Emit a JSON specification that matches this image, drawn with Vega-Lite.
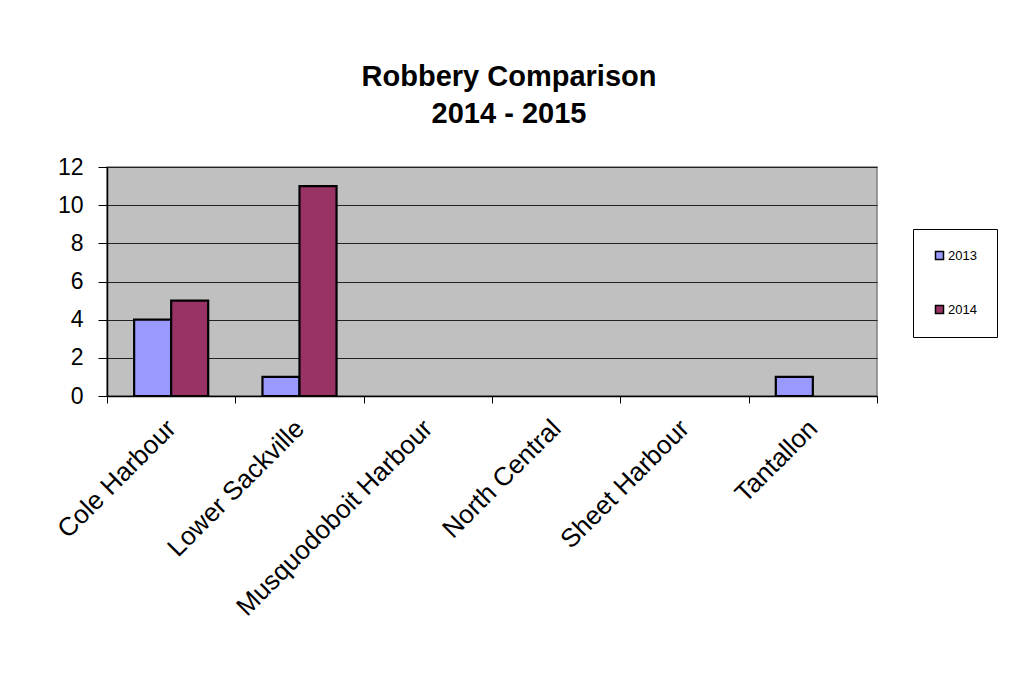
{
  "$schema": "https://vega.github.io/schema/vega-lite/v6.json",
  "width": 770,
  "height": 229,
  "autosize": {"type": "none"},
  "padding": {"left": 107, "top": 167, "right": 140, "bottom": 296},
  "background": "white",
  "title": {
    "text": ["Robbery Comparison", "2014 - 2015"],
    "font": "Liberation Sans",
    "fontSize": 29,
    "fontWeight": "bold",
    "color": "black",
    "anchor": "middle",
    "frame": "group",
    "baseline": "bottom",
    "dx": 17,
    "lineHeight": 37,
    "offset": -2
  },
  "data": {
    "values": [
      {"station": "Cole Harbour", "year": "2013", "count": 4},
      {"station": "Cole Harbour", "year": "2014", "count": 5},
      {"station": "Lower Sackville", "year": "2013", "count": 1},
      {"station": "Lower Sackville", "year": "2014", "count": 11},
      {"station": "Musquodoboit Harbour", "year": "2013", "count": 0},
      {"station": "Musquodoboit Harbour", "year": "2014", "count": 0},
      {"station": "North Central", "year": "2013", "count": 0},
      {"station": "North Central", "year": "2014", "count": 0},
      {"station": "Sheet Harbour", "year": "2013", "count": 0},
      {"station": "Sheet Harbour", "year": "2014", "count": 0},
      {"station": "Tantallon", "year": "2013", "count": 1},
      {"station": "Tantallon", "year": "2014", "count": 0}
    ]
  },
  "transform": [{"filter": "datum.count > 0"}],
  "mark": {"type": "bar", "stroke": "black", "strokeWidth": 2.2},
  "encoding": {
    "x": {
      "field": "station",
      "type": "nominal",
      "sort": ["Cole Harbour", "Lower Sackville", "Musquodoboit Harbour", "North Central", "Sheet Harbour", "Tantallon"],
      "scale": {"domain": ["Cole Harbour", "Lower Sackville", "Musquodoboit Harbour", "North Central", "Sheet Harbour", "Tantallon"], "paddingInner": 0, "paddingOuter": 0},
      "axis": {
        "title": null,
        "labelAngle": -45,
        "labelAlign": "right",
        "labelBaseline": "middle",
        "labelFont": "Liberation Sans",
        "labelFontSize": 26,
        "labelColor": "black",
        "labelPadding": 21,
        "labelLimit": 400,
        "tickBand": "extent",
        "tickColor": "black",
        "tickSize": 7,
        "tickWidth": 1,
        "domainColor": "black",
        "domainWidth": 1.5,
        "grid": false
      }
    },
    "xOffset": {
      "field": "year",
      "type": "nominal",
      "scale": {"domain": ["2013", "2014"], "paddingInner": 0, "paddingOuter": 0.733}
    },
    "y": {
      "field": "count",
      "type": "quantitative",
      "scale": {"domain": [0, 12], "nice": false},
      "axis": {
        "title": null,
        "values": [0, 2, 4, 6, 8, 10, 12],
        "labelFont": "Liberation Sans",
        "labelFontSize": 23,
        "labelColor": "black",
        "labelPadding": 15,
        "tickColor": "black",
        "tickSize": 9,
        "tickWidth": 1,
        "domainColor": "black",
        "domainWidth": 1.5,
        "grid": true,
        "gridColor": "#222222",
        "gridWidth": 1
      }
    },
    "color": {
      "field": "year",
      "type": "nominal",
      "scale": {"domain": ["2013", "2014"], "range": ["#9999FF", "#993366"]},
      "legend": {
        "title": null,
        "orient": "none",
        "legendX": 806,
        "legendY": 62,
        "direction": "vertical",
        "symbolType": "square",
        "symbolSize": 64,
        "symbolStrokeColor": "black",
        "symbolStrokeWidth": 1.5,
        "labelFont": "Liberation Sans",
        "labelFontSize": 13,
        "labelColor": "black",
        "labelOffset": 2,
        "rowPadding": 39,
        "padding": 20,
        "strokeColor": "black",
        "fillColor": "white"
      }
    }
  },
  "config": {
    "view": {"fill": "#C0C0C0", "stroke": "#808080", "strokeWidth": 1.5}
  }
}
